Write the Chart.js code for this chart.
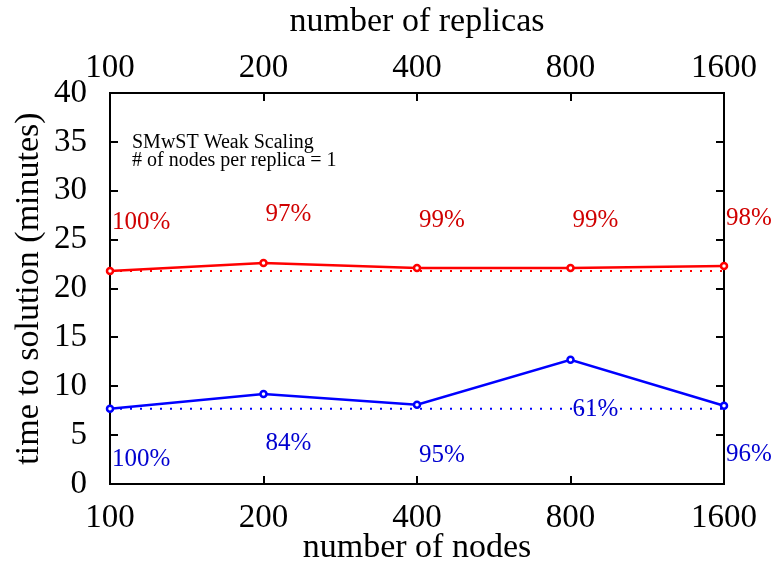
<!DOCTYPE html>
<html>
<head>
<meta charset="utf-8">
<title>SMwST Weak Scaling</title>
<script src="https://cdn.jsdelivr.net/npm/chart.js@4"></script>
<style>
    html, body { margin: 0; padding: 0; background: #ffffff; }
    canvas { display: block; }
</style>
</head>
<body>
<canvas id="scaling-chart" width="776" height="568"></canvas>
<script>
const nodeCounts = ["100", "200", "400", "800", "1600"];
const replicaCounts = ["100", "200", "400", "800", "1600"];

// time to solution (minutes)
const redTimes = [21.8, 22.6, 22.1, 22.1, 22.3];
const redBaseline = [21.8, 21.8, 21.8, 21.8, 21.8];
const blueTimes = [7.7, 9.2, 8.1, 12.7, 8.0];
const blueBaseline = [7.7, 7.7, 7.7, 7.7, 7.7];

// efficiency labels and the y value they sit at
const redEfficiency = ["100%", "97%", "99%", "99%", "98%"];
const redEfficiencyY = [26.8, 27.6, 27.0, 27.0, 27.2];
const blueEfficiency = ["100%", "84%", "95%", "61%", "96%"];
const blueEfficiencyY = [2.5, 4.2, 2.9, 7.6, 3.0];

const noteLines = ["SMwST Weak Scaling", "# of nodes per replica = 1"];

const SERIF = "'Liberation Serif', 'Times New Roman', serif";
const RED = "#ff0000";
const BLUE = "#0000ff";

const frameAndTicks = {
    id: "frameAndTicks",
    beforeDatasetsDraw(chart) {
        const { ctx, chartArea: area, scales } = chart;
        ctx.save();
        ctx.strokeStyle = "#000000";
        ctx.lineWidth = 2;
        ctx.strokeRect(area.left, area.top, area.right - area.left, area.bottom - area.top);

        ctx.beginPath();
        scales.y.ticks.forEach((tick, i) => {
            const py = Math.round(scales.y.getPixelForTick(i));
            ctx.moveTo(area.left, py);
            ctx.lineTo(area.left + 8, py);
            ctx.moveTo(area.right, py);
            ctx.lineTo(area.right - 8, py);
        });
        scales.x.ticks.forEach((tick, i) => {
            const px = Math.round(scales.x.getPixelForTick(i));
            ctx.moveTo(px, area.bottom);
            ctx.lineTo(px, area.bottom - 8);
        });
        scales.x2.ticks.forEach((tick, i) => {
            const px = Math.round(scales.x2.getPixelForTick(i));
            ctx.moveTo(px, area.top);
            ctx.lineTo(px, area.top + 8);
        });
        ctx.stroke();
        ctx.restore();
    },
    afterDatasetsDraw(chart) {
        const { ctx, chartArea: area, scales } = chart;
        ctx.save();
        ctx.textAlign = "left";
        ctx.textBaseline = "middle";
        ctx.font = `25px ${SERIF}`;

        ctx.fillStyle = "#d00000";
        redEfficiency.forEach((text, i) => {
            ctx.fillText(text, scales.x.getPixelForValue(i) + 2, scales.y.getPixelForValue(redEfficiencyY[i]));
        });
        ctx.fillStyle = "#0000d0";
        blueEfficiency.forEach((text, i) => {
            ctx.fillText(text, scales.x.getPixelForValue(i) + 2, scales.y.getPixelForValue(blueEfficiencyY[i]));
        });

        ctx.fillStyle = "#000000";
        ctx.font = `20px ${SERIF}`;
        noteLines.forEach((line, i) => {
            ctx.fillText(line, area.left + 22, area.top + 50 + i * 18);
        });
        ctx.restore();
    },
};

function lineDataset(label, data, color, dotted) {
    return {
        label,
        data,
        borderColor: color,
        backgroundColor: "#ffffff",
        borderWidth: dotted ? 2 : 2.5,
        borderDash: dotted ? [2, 8] : [],
        pointRadius: dotted ? 0 : 3,
        pointBorderWidth: 2.5,
        pointBorderColor: color,
        pointBackgroundColor: "#ffffff",
        tension: 0,
        clip: false,
        order: dotted ? 2 : 1,
    };
}

const tickFont = { family: SERIF, size: 33 };
const titleFont = { family: SERIF, size: 34 };

new Chart(document.getElementById("scaling-chart"), {
    type: "line",
    data: {
        labels: nodeCounts,
        datasets: [
            lineDataset("red", redTimes, RED, false),
            lineDataset("red reference", redBaseline, RED, true),
            lineDataset("blue", blueTimes, BLUE, false),
            lineDataset("blue reference", blueBaseline, BLUE, true),
        ],
    },
    options: {
        responsive: false,
        animation: false,
        devicePixelRatio: 1,
        layout: { padding: { left: 0, right: 52, top: 0, bottom: 0 } },
        plugins: {
            legend: { display: false },
            tooltip: { enabled: false },
        },
        scales: {
            x: {
                type: "category",
                position: "bottom",
                offset: false,
                grid: { display: false, drawTicks: false },
                border: { display: false },
                ticks: { color: "#000000", font: tickFont, padding: 15, maxRotation: 0, autoSkip: false },
                title: { display: true, text: "number of nodes", color: "#000000", font: titleFont, padding: { top: 0, bottom: 0 } },
                afterFit(scale) { scale.height = 84; },
            },
            x2: {
                type: "category",
                position: "top",
                labels: replicaCounts,
                offset: false,
                grid: { display: false, drawTicks: false },
                border: { display: false },
                ticks: { color: "#000000", font: tickFont, padding: 5, maxRotation: 0, autoSkip: false },
                title: { display: true, text: "number of replicas", color: "#000000", font: titleFont, padding: { top: 2, bottom: 0 } },
                afterFit(scale) { scale.height = 93; },
            },
            y: {
                type: "linear",
                min: 0,
                max: 40,
                grid: { display: false, drawTicks: false },
                border: { display: false },
                ticks: { stepSize: 5, color: "#000000", font: tickFont, padding: 23 },
                title: { display: true, text: "time to solution (minutes)", color: "#000000", font: titleFont, padding: { top: 9, bottom: 0 } },
                afterFit(scale) { scale.width = 110; },
            },
        },
    },
    plugins: [frameAndTicks],
});
</script>
</body>
</html>
